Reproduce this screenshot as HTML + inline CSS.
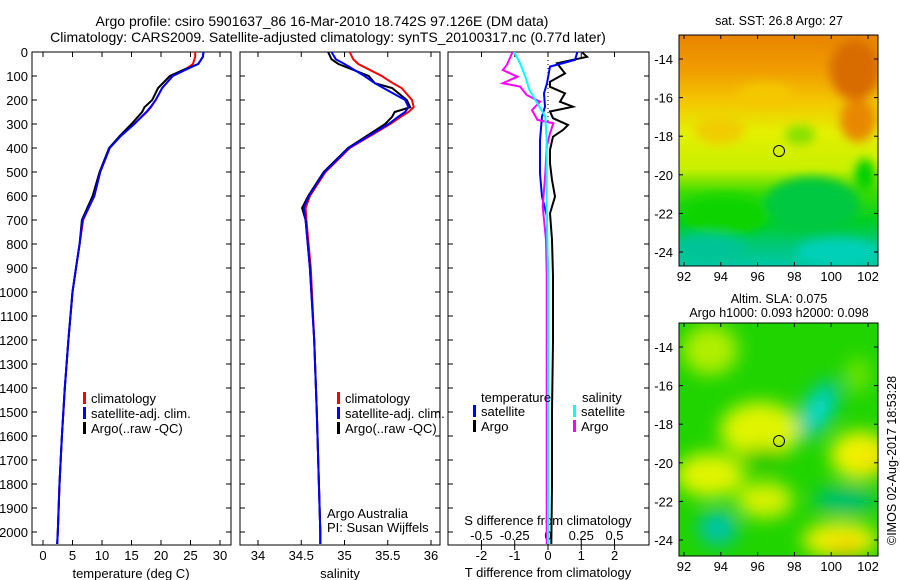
<!DOCTYPE html>
<html><head><meta charset="utf-8"><style>
html,body{margin:0;padding:0;background:#fff;}
svg{display:block;font-family:"Liberation Sans",sans-serif;}
</style></head><body>
<svg id="fig" width="900" height="580" viewBox="0 0 900 580" xmlns="http://www.w3.org/2000/svg">
<defs>
<filter id="bl" x="-50%" y="-50%" width="200%" height="200%"><feGaussianBlur stdDeviation="9"/></filter>
<filter id="bl2" x="-50%" y="-50%" width="200%" height="200%"><feGaussianBlur stdDeviation="5"/></filter>
<clipPath id="c1"><rect x="679" y="35" width="199" height="231"/></clipPath>
<clipPath id="c2"><rect x="679" y="323" width="199" height="233"/></clipPath>
<linearGradient id="sstg" x1="0" y1="0" x2="0" y2="1">
<stop offset="0" stop-color="#e88400"/><stop offset="0.15" stop-color="#f09c00"/><stop offset="0.28" stop-color="#f4c400"/><stop offset="0.42" stop-color="#e4f000"/><stop offset="0.58" stop-color="#c8f000"/><stop offset="0.68" stop-color="#40dc00"/><stop offset="0.8" stop-color="#00d020"/><stop offset="0.9" stop-color="#00c870"/><stop offset="1" stop-color="#00c8a8"/>
</linearGradient>
</defs>
<text x="322" y="26" font-size="14" text-anchor="middle">Argo profile: csiro 5901637_86 16-Mar-2010 18.742S 97.126E (DM data)</text>
<text x="328" y="42" font-size="14" text-anchor="middle">Climatology: CARS2009. Satellite-adjusted climatology: synTS_20100317.nc (0.77d later)</text>
<g id="g1"></g>
<g id="g2"></g>
<g id="g3"></g>

<g>
<text x="779" y="25" font-size="12.5" text-anchor="middle">sat. SST: 26.8 Argo: 27</text>
<g clip-path="url(#c1)">
<rect x="679" y="35" width="199" height="231" fill="url(#sstg)"/>
<g filter="url(#bl2)">
<ellipse cx="855" cy="70" rx="25" ry="30" fill="#d86c00"/>
<ellipse cx="858" cy="120" rx="18" ry="22" fill="#e88800"/>
<ellipse cx="765" cy="95" rx="28" ry="12" fill="#f4c800"/>
<ellipse cx="720" cy="130" rx="25" ry="14" fill="#f0cc00"/>
<ellipse cx="812" cy="205" rx="48" ry="28" fill="#00c840"/>
<ellipse cx="725" cy="215" rx="45" ry="20" fill="#10d400"/>
<ellipse cx="865" cy="175" rx="10" ry="16" fill="#00d000"/>
<ellipse cx="800" cy="135" rx="15" ry="10" fill="#88e000"/>
<ellipse cx="838" cy="252" rx="42" ry="14" fill="#00d0b8"/>
<ellipse cx="710" cy="248" rx="35" ry="14" fill="#00c498"/>
</g>
</g>
<rect x="679" y="35" width="199" height="231" fill="none" stroke="#000"/>
<circle cx="779" cy="151" r="5.5" fill="none" stroke="#000"/>
</g>

<g>
<text x="779" y="303" font-size="12.5" text-anchor="middle">Altim. SLA: 0.075</text>
<text x="779" y="317" font-size="12.5" text-anchor="middle">Argo h1000: 0.093 h2000: 0.098</text>
<g clip-path="url(#c2)">
<rect x="679" y="323" width="199" height="233" fill="#20d400"/>
<g filter="url(#bl)">
<ellipse cx="710" cy="350" rx="28" ry="25" fill="#b0ee00"/>
<ellipse cx="858" cy="375" rx="12" ry="18" fill="#70e400"/>
<ellipse cx="818" cy="410" rx="16" ry="34" fill="#00c8a0" transform="rotate(30 818 410)"/>
<ellipse cx="818" cy="410" rx="8" ry="15" fill="#10e0d8" transform="rotate(30 818 410)"/>
<ellipse cx="760" cy="430" rx="40" ry="28" fill="#e0f400"/>
<ellipse cx="710" cy="475" rx="35" ry="22" fill="#e0f400"/>
<ellipse cx="765" cy="500" rx="28" ry="18" fill="#d8f200"/>
<ellipse cx="765" cy="458" rx="22" ry="10" fill="#10c800"/>
<ellipse cx="860" cy="455" rx="30" ry="24" fill="#f0f200"/>
<ellipse cx="872" cy="462" rx="10" ry="12" fill="#f4e000"/>
<ellipse cx="845" cy="500" rx="32" ry="14" fill="#00c070"/>
<ellipse cx="718" cy="528" rx="20" ry="18" fill="#00c4a8"/>
<ellipse cx="840" cy="540" rx="38" ry="18" fill="#eeee00"/>
<ellipse cx="845" cy="550" rx="15" ry="8" fill="#f4c400"/>
</g>
</g>
<rect x="679" y="323" width="199" height="233" fill="none" stroke="#000"/>
<circle cx="779" cy="441" r="5.5" fill="none" stroke="#000"/>
</g>
<text x="0" y="0" font-size="12.5" transform="translate(896 545) rotate(-90)">©IMOS 02-Aug-2017 18:53:28</text>
<g id="mapaxes"></g>
</svg>
<script>
// ---- data ----
const depthsT = [0,20,50,70,100,150,200,230,250,300,350,400,500,600,700,800,900,1000,1200,1400,1600,1800,2000,2050];
const tempClim = [25.8,25.8,25.4,24.3,22,20.2,19.1,18.3,17.6,15.4,13.1,11.3,9.7,8.7,6.8,6.2,5.6,5.0,4.3,3.7,3.2,2.8,2.5,2.4];
const tempSat  = [27.2,27.1,26.3,24.5,22,20.2,19.1,18.2,17.5,15.5,13.2,11.3,9.7,8.7,6.7,6.2,5.6,5.0,4.3,3.7,3.2,2.8,2.5,2.4];
const tempArgo = [27.2,27.1,26.3,24.2,21.5,19.5,18.5,17.2,16.8,15.0,13.0,11.2,9.6,8.4,6.6,6.2,5.6,5.0,4.3,3.7,3.2,2.8,2.5,2.4];
const depthsS = [0,30,50,100,130,150,200,230,250,270,300,400,500,600,650,700,900,1200,1500,2000,2050];
const salClim = [35.06,35.1,35.16,35.43,35.56,35.66,35.78,35.8,35.74,35.65,35.53,35.06,34.78,34.6,34.55,34.56,34.61,34.65,34.68,34.72,34.72];
const salSat  = [34.85,34.9,35.0,35.23,35.35,35.45,35.7,35.74,35.7,35.62,35.51,35.05,34.77,34.59,34.53,34.55,34.6,34.65,34.68,34.72,34.72];
const salArgo = [34.81,34.85,34.93,35.28,35.35,35.55,35.72,35.76,35.58,35.55,35.47,35.04,34.76,34.58,34.51,34.55,34.6,34.65,34.68,34.72,34.72];
const depthsDTs = [0,5,33,61,130,172,228,269,367,506,603,686,783,922,2050];
const dTSat = [0.87,0.87,0.81,0.06,-0.03,-0.12,-0.09,-0.18,-0.24,-0.24,-0.18,-0.03,-0.03,0,0];
const depthsDTa = [0,5,20,47,89,124,145,172,207,228,248,276,304,325,353,408,464,533,603,672,783,936,1200,1500,1800,2050];
const dTArgo = [1.05,1.05,1.17,0.27,0.51,0.06,0.06,0.51,0.36,0.75,0.06,0.15,0.6,0.45,0.15,0.06,0.06,0.12,0.21,0.06,0.12,0.15,0.15,0.12,0.12,0.1];
const depthsDSa = [0,5,54,75,103,130,144,179,207,242,283,297,339,394,506,644,783,922,2050];
const dSArgo = [-0.27,-0.27,-0.31,-0.34,-0.23,-0.34,-0.21,-0.16,-0.06,-0.12,-0.08,0.04,0.015,-0.01,-0.02,-0.04,-0.015,-0.01,-0.01];
const depthsDSs = [0,5,47,103,158,214,269,367,644,922,2050];
const dSSat = [-0.25,-0.25,-0.21,-0.17,-0.14,-0.08,-0.02,-0.01,-0.01,0,0];
const depthTicks = [0,100,200,300,400,500,600,700,800,900,1000,1100,1200,1300,1400,1500,1600,1700,1800,1900,2000];
const tTicks = [0,5,10,15,20,25,30];
const sTicks = [34,34.5,35,35.5,36];
const dTTicks = [-2,-1,0,1,2];
const dSTicks = [-0.5,-0.25,0,0.25,0.5];
const dSTickLabels = ['-0.5','-0.25','0','0.25','0.5'];
const lonTicks = [92,94,96,98,100,102];
const latTicks = [-14,-16,-18,-20,-22,-24];

// ---- scales ----
const NS='http://www.w3.org/2000/svg';
const yD = d => 52 + d*0.24;
const xT = t => 43 + t*5.9;
const xS = s => 258 + (s-34)*86.5;
const xDT = v => 548 + v*33.3;
const xDS = v => 548 + v*133;
const xLon = l => 684 + (l-92)*18.4;
const yLat = l => 59 + (-14-l)*19.3;
const TOP=52, BOT=545;

function el(tag, attrs, parent){const e=document.createElementNS(NS,tag);for(const k in attrs)e.setAttribute(k,attrs[k]);parent.appendChild(e);return e;}
function txt(parent,x,y,s,anchor,size){const t=el('text',{x:x,y:y,'font-size':size||12.5,'text-anchor':anchor||'middle'},parent);t.textContent=s;return t;}
function line(parent,xs,ys,color,name){
  const pts=xs.map((x,i)=>x.toFixed(1)+','+ys[i].toFixed(1)).join(' ');
  const p=el('polyline',{points:pts,fill:'none',stroke:color,'stroke-width':2},parent);
  
  
}
function box(g,x0,x1){el('rect',{x:x0,y:TOP,width:x1-x0,height:BOT-TOP,fill:'none',stroke:'#000'},g);}
function yTicks(g,x0,x1,labels){
  depthTicks.forEach(d=>{const y=yD(d);
    el('line',{x1:x0,y1:y,x2:x0+5,y2:y,stroke:'#000'},g);
    el('line',{x1:x1,y1:y,x2:x1-5,y2:y,stroke:'#000'},g);
    if(labels){const t=txt(g,28,y+5,String(d),'end',13);
      
      }
  });
}
function xTicks(g,vals,fx,labs,ly,bothSides){
  vals.forEach((v,i)=>{const x=fx(v);
    el('line',{x1:x,y1:BOT,x2:x,y2:BOT-5,stroke:'#000'},g);
    if(bothSides) el('line',{x1:x,y1:TOP,x2:x,y2:TOP+5,stroke:'#000'},g);
    const t=txt(g,x,ly,labs?labs[i]:String(v),'middle',13);
    
    
  });
}
function legend(g,x,y,items){
  items.forEach((it,i)=>{
    el('rect',{x:x,y:y+i*15-11,width:3,height:12,fill:it[1]},g);
    const t=txt(g,x+8,y+i*15,it[0],'start',13);
    
    
  });
}

// panel 1
const g1=document.getElementById('g1');
box(g1,32,231); yTicks(g1,32,231,true); xTicks(g1,tTicks,xT,null,560,true);
txt(g1,131,578,'temperature (deg C)','middle',13);
line(g1,tempClim.map(xT),depthsT.map(yD),'#f00','temp-climatology-line');
line(g1,tempArgo.map(xT),depthsT.map(yD),'#000','temp-argo-line');
line(g1,tempSat.map(xT),depthsT.map(yD),'#00f','temp-satellite-line');
legend(g1,83,403,[['climatology','#f00'],['satellite-adj. clim.','#00f'],['Argo(..raw -QC)','#000']]);

// panel 2
const g2=document.getElementById('g2');
box(g2,240,440); yTicks(g2,240,440,false); xTicks(g2,sTicks,xS,null,560,true);
txt(g2,340,578,'salinity','middle',13);
line(g2,salClim.map(xS),depthsS.map(yD),'#f00','sal-climatology-line');
line(g2,salArgo.map(xS),depthsS.map(yD),'#000','sal-argo-line');
line(g2,salSat.map(xS),depthsS.map(yD),'#00f','sal-satellite-line');
legend(g2,337,403,[['climatology','#f00'],['satellite-adj. clim.','#00f'],['Argo(..raw -QC)','#000']]);
txt(g2,327,518,'Argo Australia','start',13);
txt(g2,327,532,'PI: Susan Wijffels','start',13);

// panel 3
const g3=document.getElementById('g3');
box(g3,448,649); yTicks(g3,448,649,false);
el('line',{x1:548,y1:TOP,x2:548,y2:yD(300),stroke:'#000','stroke-dasharray':'1,3'},g3);
dTTicks.forEach(v=>{const x=xDT(v);el('line',{x1:x,y1:BOT,x2:x,y2:BOT+5,stroke:'#000'},g3);
  const t=txt(g3,x,560,String(v),'middle',13);});
dSTicks.forEach((v,i)=>{const x=xDS(v);el('line',{x1:x,y1:BOT,x2:x,y2:BOT-5,stroke:'#000'},g3);el('line',{x1:x,y1:TOP,x2:x,y2:TOP+5,stroke:'#000'},g3);
  const t=txt(g3,x,540,dSTickLabels[i],'middle',13);});
txt(g3,548,525,'S difference from climatology','middle',13);
txt(g3,548,577,'T difference from climatology','middle',13);
line(g3,dTArgo.map(xDT),depthsDTa.map(yD),'#000','dt-argo-line');
line(g3,dTSat.map(xDT),depthsDTs.map(yD),'#00f','dt-satellite-line');
line(g3,dSArgo.map(xDS),depthsDSa.map(yD),'#f0f','ds-argo-line');
line(g3,dSSat.map(xDS),depthsDSs.map(yD),'#0ff','ds-satellite-line');
txt(g3,481,402,'temperature','start',13);
txt(g3,582,402,'salinity','start',13);
legend(g3,473,416,[['satellite','#00f'],['Argo','#000']]);
legend(g3,573,416,[['satellite','#0ff'],['Argo','#f0f']]);

// map axes
const ma=document.getElementById('mapaxes');
[[35,266],[323,556]].forEach(([t,b],mi)=>{
  lonTicks.forEach(l=>{const x=xLon(l);
    el('line',{x1:x,y1:b,x2:x,y2:b-4,stroke:'#000'},ma);el('line',{x1:x,y1:t,x2:x,y2:t+4,stroke:'#000'},ma);
    const tt=txt(ma,x,b+15,String(l),'middle',13);});
  latTicks.forEach(l=>{const y=yLat(l)+(mi?288:0);
    el('line',{x1:679,y1:y,x2:683,y2:y,stroke:'#000'},ma);el('line',{x1:878,y1:y,x2:874,y2:y,stroke:'#000'},ma);
    const tt=txt(ma,673,y+5,String(l),'end',13);});
});
</script>
</body></html>
